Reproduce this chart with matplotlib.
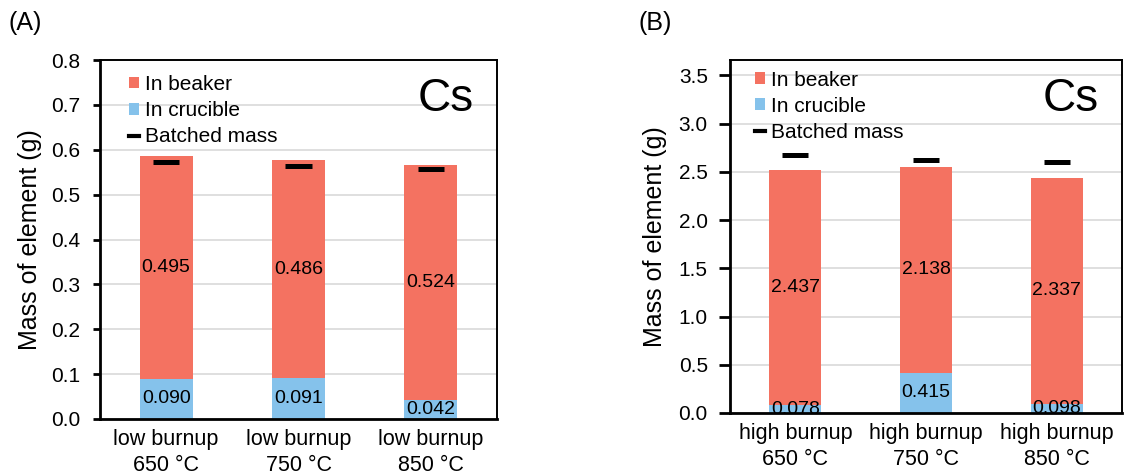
import matplotlib
matplotlib.use("Agg")
import matplotlib.pyplot as plt
import numpy as np
from matplotlib.patches import Patch
from matplotlib.lines import Line2D

plt.rcParams['font.family'] = ['Liberation Sans', 'DejaVu Sans']

# ---- data ----
labels_low = ["low burnup\n650 °C", "low burnup\n750 °C", "low burnup\n850 °C"]
beaker_low = [0.495, 0.486, 0.524]
crucible_low = [0.090, 0.091, 0.042]
batched_low = [0.573, 0.564, 0.557]

labels_high = ["high burnup\n650 °C", "high burnup\n750 °C", "high burnup\n850 °C"]
beaker_high = [2.437, 2.138, 2.337]
crucible_high = [0.078, 0.415, 0.098]
batched_high = [2.678, 2.626, 2.600]

yticks_low = [0.0, 0.1, 0.2, 0.3, 0.4, 0.5, 0.6, 0.7, 0.8]
yticks_high = [0.0, 0.5, 1.0, 1.5, 2.0, 2.5, 3.0, 3.5]

C_BEAKER = '#F47261'
C_CRUC = '#85C2EB'
C_GRID = '#D9D9D9'

W, H = 1125, 474
fig = plt.figure(figsize=(W / 100, H / 100), dpi=100)


def px_axes(l, t, r, b):
    return fig.add_axes([l / W, 1 - b / H, (r - l) / W, (b - t) / H])


def draw(ax, labels, beaker, cruc, batched, yticks, ymax, fmt, ylabx, ylaby,
         legx, legy, tickpad, ticklen):
    x = np.arange(len(labels))
    ax.bar(x, cruc, width=0.4, color=C_CRUC, zorder=2)
    ax.bar(x, beaker, width=0.4, bottom=cruc, color=C_BEAKER, zorder=2)
    ax.hlines(batched, x - 0.1, x + 0.1, colors='black', lw=3.6, zorder=3)
    for xi, c, b in zip(x, cruc, beaker):
        ax.text(xi, c / 2, fmt.format(c), ha='center', va='center', fontsize=14, zorder=4)
        ax.text(xi, c + b / 2, fmt.format(b), ha='center', va='center', fontsize=14, zorder=4)
    ax.set_xlim(-0.5, len(labels) - 0.5)
    ax.set_ylim(0, ymax)
    ax.set_yticks(yticks)
    ax.set_yticklabels([f"{v:.1f}" for v in yticks])
    ax.set_xticks(x)
    ax.set_xticklabels(labels, linespacing=1.32)
    ax.tick_params(axis='x', length=0, pad=7, labelsize=15.5)
    ax.tick_params(axis='y', length=ticklen, width=2, pad=tickpad, labelsize=15, direction='out')
    ax.yaxis.grid(True, color=C_GRID, lw=1.2, zorder=0)
    ax.set_axisbelow(True)
    for s in ['left', 'bottom']:
        ax.spines[s].set_linewidth(2)
    for s in ['top', 'right']:
        ax.spines[s].set_linewidth(1.4)
    ax.set_ylabel("Mass of element (g)", fontsize=18)
    ax.yaxis.set_label_coords(ylabx, ylaby)
    ax.text(0.87, 0.89, "Cs", transform=ax.transAxes, ha='center', va='center', fontsize=33)
    handles = [Patch(facecolor=C_BEAKER, label="In beaker"),
               Patch(facecolor=C_CRUC, label="In crucible"),
               Line2D([], [], color='black', lw=3, label="Batched mass")]
    ax.legend(handles=handles, loc='upper left', bbox_to_anchor=(legx, legy),
              frameon=False, fontsize=15, handlelength=0.48, handleheight=0.48,
              handletextpad=0.3, labelspacing=0.34, borderpad=0, borderaxespad=0)


axA = px_axes(100, 60, 497, 419)
draw(axA, labels_low, beaker_low, crucible_low, batched_low, yticks_low, 0.8,
     "{:.3f}", -0.146, 0.5, 0.073, 0.958, 9, 5)

axB = px_axes(730, 60, 1122, 413)
draw(axB, labels_high, beaker_high, crucible_high, batched_high, yticks_high, 3.66,
     "{:.3f}", -0.16, 0.5, 0.064, 0.97, 8, 8)

fig.text(8 / W, 1 - 23 / H, "(A)", fontsize=18, ha='left', va='center')
fig.text(638 / W, 1 - 23 / H, "(B)", fontsize=18, ha='left', va='center')

fig.savefig("out.png", dpi=100)
